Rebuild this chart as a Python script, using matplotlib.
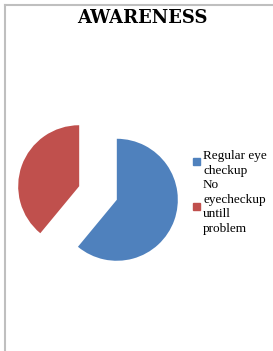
import matplotlib
matplotlib.use("Agg")
import matplotlib.pyplot as plt
from matplotlib.patches import Rectangle

# data
labels = ["Regular eye\ncheckup", "No\neyecheckup\nuntill\nproblem"]
values = [61, 39]
colors = ["#4F81BD", "#C0504D"]
title = "AWARENESS"

W, H = 273, 351
fig = plt.figure(figsize=(W / 100, H / 100), dpi=100)
ax = fig.add_axes([0, 0, 1, 1])
ax.set_xlim(0, W)
ax.set_ylim(H, 0)
ax.axis("off")

# frame lines (top and left only)
ax.plot([4.5, W], [4.5, 4.5], color="#bfbfbf", lw=1.5)
ax.plot([4.5, 4.5], [4.5, H], color="#bfbfbf", lw=1.5)

# pie in its own axes so the angles stay standard
pax = fig.add_axes([0, 0, 1, 1])
pax.set_xlim(0, W)
pax.set_ylim(0, H)
pax.axis("off")
pax.pie(values, colors=colors, startangle=90, counterclock=False,
        center=(98, H - 193), radius=61, explode=[20, 20],
        wedgeprops=dict(linewidth=0))
pax.set_xlim(0, W)
pax.set_ylim(0, H)

ax.text(142, 18, title, ha="center", va="center", fontsize=13,
        fontweight="bold", family="DejaVu Serif")

# legend
serif = "Liberation Serif"
text_y = [150, 179]
box_y = [158, 203]
for lab, col, ty, by in zip(labels, colors, text_y, box_y):
    ax.add_patch(Rectangle((193, by), 7, 7, color=col))
    ax.text(203, ty, lab, ha="left", va="top", fontsize=9.5,
            family=serif, linespacing=1.3)

fig.savefig("out.png", dpi=100)
